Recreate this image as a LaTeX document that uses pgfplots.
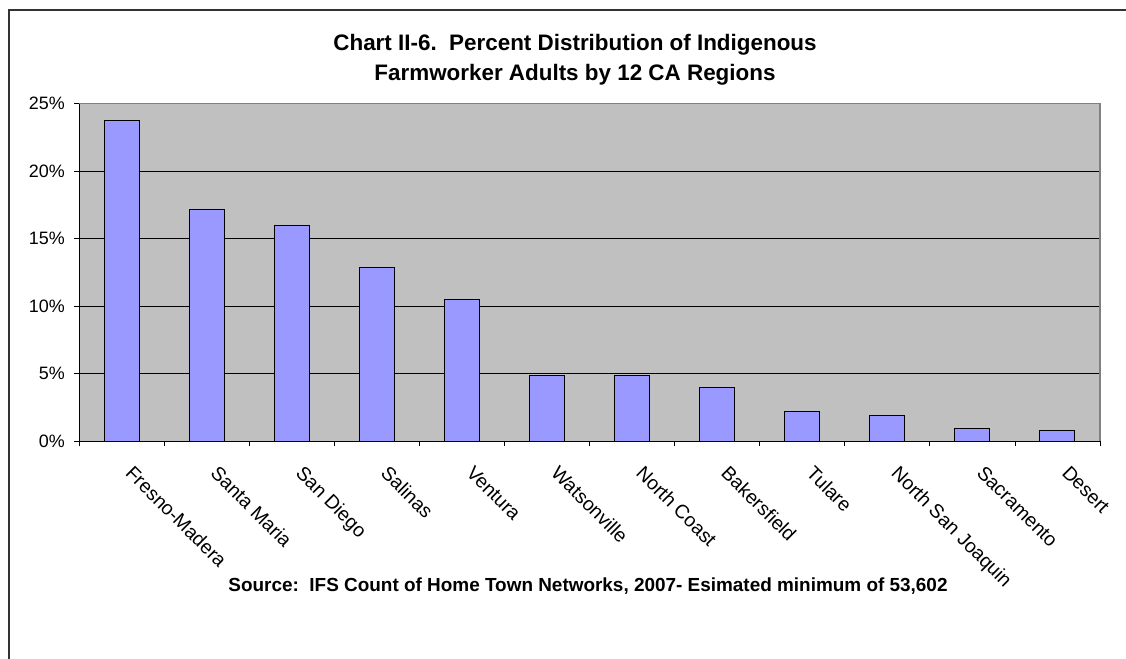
\documentclass[border=0pt]{standalone}
\usepackage{pgfplots}
\pgfplotsset{compat=1.18}
\usepackage{fontspec}
\setmainfont{Liberation Sans}
\definecolor{barblue}{HTML}{9999FF}
\definecolor{plotgray}{HTML}{C0C0C0}
\begin{document}
\begin{tikzpicture}[x=1bp,y=1bp]
\path[use as bounding box] (0,0) rectangle (1126,659);
\draw[line width=1.3bp, black!80] (9,-5) -- (9,649) -- (1135,649);
\node[font=\bfseries\fontsize{22.5}{30}\selectfont, align=center] at (575,599) {Chart II-6.\ \ Percent Distribution of Indigenous\\Farmworker Adults by 12 CA Regions};
\node[font=\bfseries\fontsize{19}{22}\selectfont] at (588,73) {Source:\ \ IFS Count of Home Town Networks, 2007- Esimated minimum of 53,602};
\begin{axis}[
  at={(79bp,217.7bp)}, anchor=south west,
  scale only axis, width=1021bp, height=337.5bp,
  xmin=-0.5, xmax=11.5, ymin=0, ymax=25,
  ybar, bar width=35bp,
  axis background/.style={fill=plotgray},
  axis line style={draw=none},
  ytick={0,5,...,25},
  yticklabel={\pgfmathprintnumber[assume math mode=true]{\tick}\%},
  ymajorgrids, grid style={black, line width=0.8bp},
  xtick={0,...,11},
  xticklabels={Fresno-Madera,Santa Maria,San Diego,Salinas,Ventura,Watsonville,North Coast,Bakersfield,Tulare,North San Joaquin,Sacramento,Desert},
  minor xtick={-0.5,0.5,...,11.5},
  major x tick style={draw=none},
  minor tick length=5bp, major tick length=5bp,
  tick align=outside, tick pos=left,
  tick style={black, line width=0.8bp},
  ticklabel style={font=\fontsize{18}{21}\selectfont},
  xticklabel style={font=\fontsize{19.5}{22}\selectfont, xshift=13bp, yshift=-18bp, rotate=-45, anchor=north west, inner sep=0pt},
  yticklabel style={inner sep=0pt, xshift=-9bp},
  clip=false,
]
\addplot[fill=barblue, draw=black, line width=1bp] coordinates {
(0,23.75) (1,17.2) (2,15.95) (3,12.85) (4,10.5) (5,4.9) (6,4.9) (7,4.0) (8,2.2) (9,1.9) (10,0.95) (11,0.8)};
\draw[black!50, line width=1.2bp] (axis cs:-0.5,25) -- (axis cs:11.5,25) -- (axis cs:11.5,0);
\draw[black, line width=1bp] (axis cs:-0.5,25) -- (axis cs:-0.5,0) -- (axis cs:11.5,0);
\end{axis}
\end{tikzpicture}
\end{document}
